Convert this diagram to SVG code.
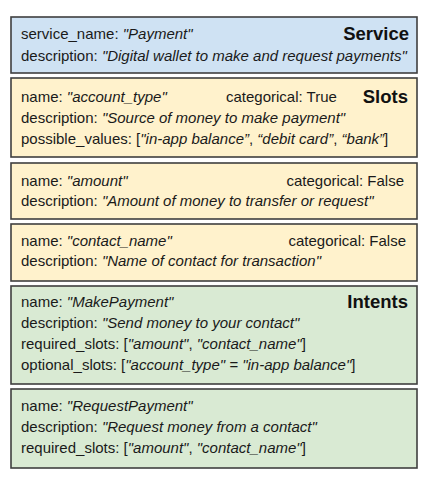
<svg xmlns="http://www.w3.org/2000/svg" width="428" height="479" viewBox="0 0 428 479">
  <style>
    .box { stroke: #3f3f3f; stroke-width: 1.6; }
    .service { fill: #cfe2f3; }
    .slot { fill: #fff2cc; }
    .intent { fill: #d9ead3; }
    text { font-family: "Liberation Sans", Arial, sans-serif; font-size: 15px; fill: #1a1a1a; }
    .v { font-style: italic; }
    .head { font-size: 18.5px; font-weight: bold; text-anchor: end; fill: #111; }
  </style>
  <rect width="428" height="479" fill="#ffffff"/>

  <!-- Service -->
  <g id="service">
    <rect class="box service" x="11" y="17" width="406" height="56"/>
    <text x="21" y="39">service_name: <tspan class="v">"Payment"</tspan></text>
    <text x="21" y="61">description: <tspan class="v">"Digital wallet to make and request payments"</tspan></text>
    <text class="head" x="409" y="40">Service</text>
  </g>

  <!-- Slots -->
  <g id="slot-account-type">
    <rect class="box slot" x="11" y="78" width="406" height="79"/>
    <text x="21" y="102">name: <tspan class="v">"account_type"</tspan></text>
    <text x="226" y="102">categorical: True</text>
    <text class="head" x="408" y="103">Slots</text>
    <text x="21" y="123">description: <tspan class="v">"Source of money to make payment"</tspan></text>
    <text x="21" y="144">possible_values: [<tspan class="v">"in-app balance”</tspan>, <tspan class="v">“debit card”</tspan>, <tspan class="v">“bank”</tspan>]</text>
  </g>

  <g id="slot-amount">
    <rect class="box slot" x="11" y="163" width="406" height="56"/>
    <text x="21" y="186">name: <tspan class="v">"amount"</tspan></text>
    <text x="404" y="186" text-anchor="end">categorical: False</text>
    <text x="21" y="206">description: <tspan class="v">"Amount of money to transfer or request"</tspan></text>
  </g>

  <g id="slot-contact-name">
    <rect class="box slot" x="11" y="224" width="406" height="57"/>
    <text x="21" y="246">name: <tspan class="v">"contact_name"</tspan></text>
    <text x="406" y="246" text-anchor="end">categorical: False</text>
    <text x="21" y="266">description: <tspan class="v">"Name of contact for transaction"</tspan></text>
  </g>

  <!-- Intents -->
  <g id="intent-make-payment">
    <rect class="box intent" x="11" y="286" width="406" height="98"/>
    <text x="21" y="307">name: <tspan class="v">"MakePayment"</tspan></text>
    <text class="head" x="408" y="308">Intents</text>
    <text x="21" y="328">description: <tspan class="v">"Send money to your contact"</tspan></text>
    <text x="21" y="349">required_slots: [<tspan class="v">"amount"</tspan>, <tspan class="v">"contact_name"</tspan>]</text>
    <text x="21" y="370">optional_slots: [<tspan class="v">"account_type" = "in-app balance"</tspan>]</text>
  </g>

  <g id="intent-request-payment">
    <rect class="box intent" x="11" y="389" width="406" height="79"/>
    <text x="21" y="411">name: <tspan class="v">"RequestPayment"</tspan></text>
    <text x="21" y="432">description: <tspan class="v">"Request money from a contact"</tspan></text>
    <text x="21" y="453">required_slots: [<tspan class="v">"amount"</tspan>, <tspan class="v">"contact_name"</tspan>]</text>
  </g>

  <g id="connectors"/>
</svg>
